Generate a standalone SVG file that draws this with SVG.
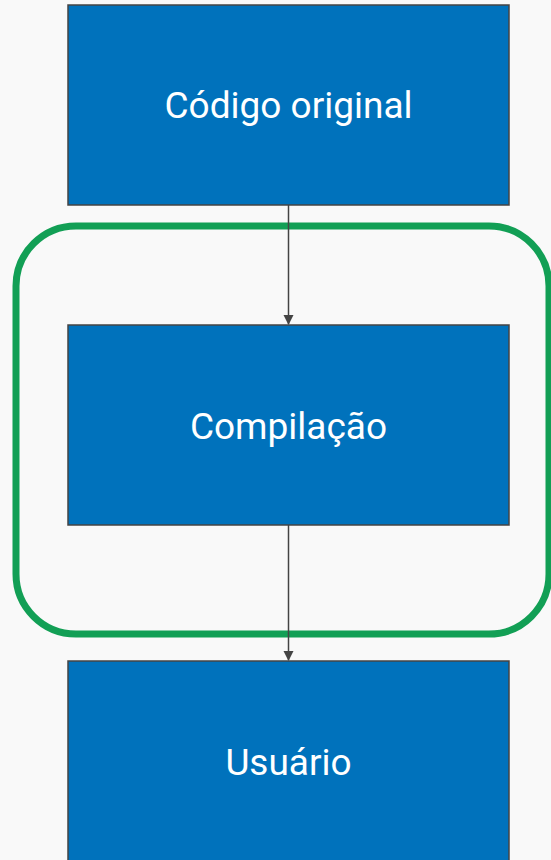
<svg xmlns="http://www.w3.org/2000/svg" width="551" height="860" viewBox="0 0 551 860">
<style>
.box{fill:#0072bc;stroke:#444;stroke-width:1.5}
.lbl{font-family:Roboto,"Liberation Sans",sans-serif;font-size:37px;fill:#fff;text-anchor:middle;dominant-baseline:central}
.edge{stroke:#444;stroke-width:1.5;fill:none}
</style>
<defs>
<marker id="arr" markerWidth="10" markerHeight="12" refX="9" refY="5" orient="auto" markerUnits="userSpaceOnUse" viewBox="0 0 10 10">
<path d="M0,0 L10,5 L0,10 Z" fill="#444"/>
</marker>
</defs>
<rect width="551" height="860" fill="#f9f9f9"/>
<g id="group-compilacao">
<rect x="16" y="226" width="533" height="408" rx="60" fill="none" stroke="#129f55" stroke-width="7"/>
</g>
<g id="node-codigo">
<rect class="box" x="68" y="5" width="441" height="200"/>
<text class="lbl" x="288.5" y="105">Código original</text>
</g>
<g id="node-compilacao">
<rect class="box" x="68" y="325" width="441" height="200"/>
<text class="lbl" x="288.5" y="426">Compilação</text>
</g>
<g id="node-usuario">
<rect class="box" x="68" y="661" width="441" height="210"/>
<text class="lbl" x="288.5" y="762">Usuário</text>
</g>
<g id="connectors">
<line class="edge" x1="288.5" y1="205" x2="288.5" y2="324" marker-end="url(#arr)"/>
<line class="edge" x1="288.5" y1="525" x2="288.5" y2="660" marker-end="url(#arr)"/>
</g>
</svg>
